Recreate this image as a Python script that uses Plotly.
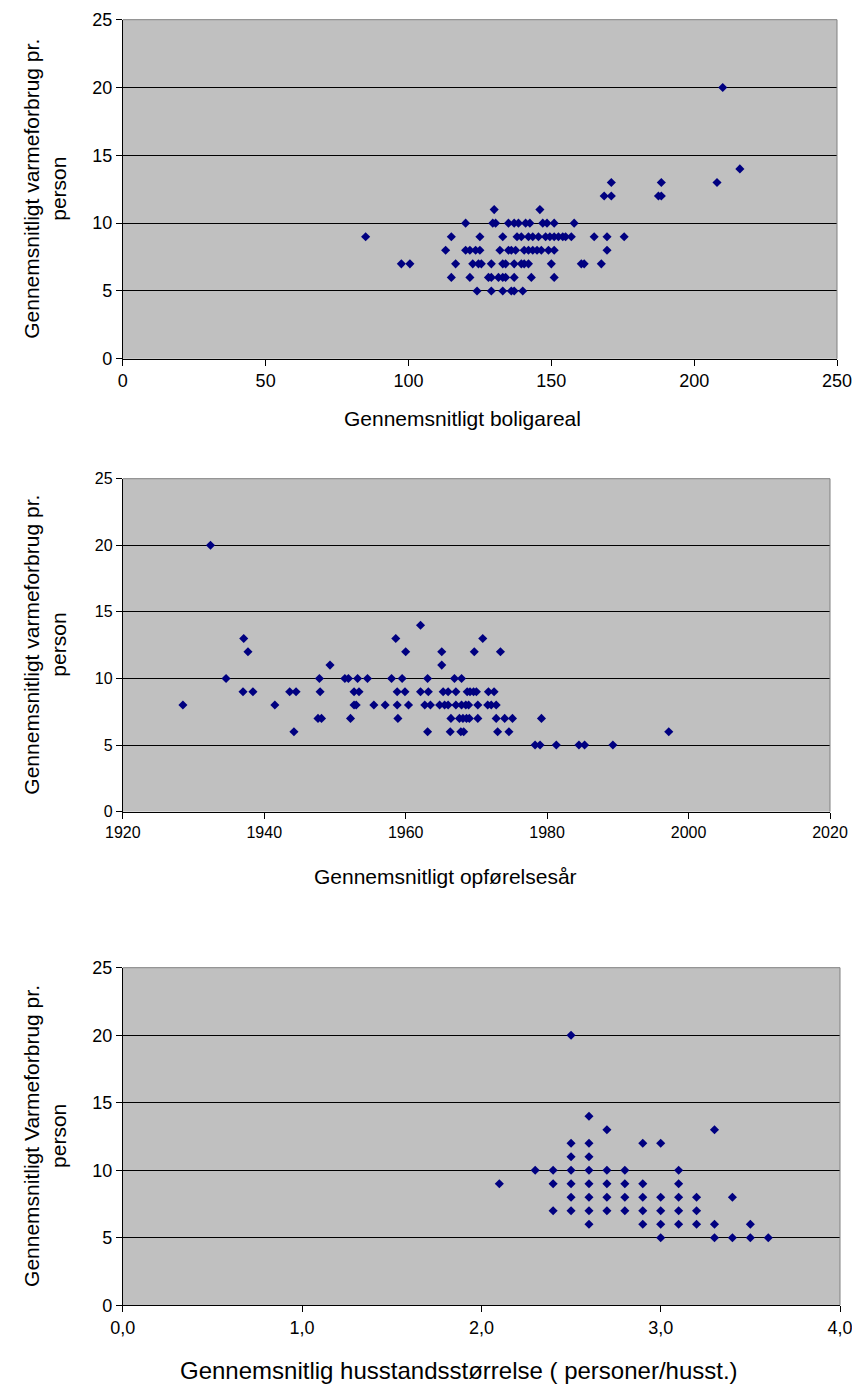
import plotly.graph_objects as go

# ---------------- data ----------------
# Chart 1: average dwelling area vs. average heat consumption per person
area_x = [210,
          216,
          171, 188.5, 208,
          168.5, 171, 187.5, 188.5,
          130, 146,
          120, 129.5, 130.5, 135, 137, 138.5, 141, 142.5, 147, 148.5, 151, 158,
          85, 115, 125, 133, 138, 139.5, 142, 143.5, 145.5, 148, 149.5, 151, 152.5, 154, 155, 157, 165, 169.5, 175.5,
          113, 120, 121.5, 123.5, 125, 132, 135, 136, 137.5, 140.5, 142, 143.5, 145, 146.5, 149, 151, 169.5,
          97.5, 100.5, 116.5, 122.5, 124.5, 125.5, 129, 133, 134, 137, 139.5, 140.5, 142, 150, 160.5, 161.5, 167.5,
          115, 121.5, 128, 129, 131.5, 133, 134, 137, 143, 151,
          124, 129, 133, 136, 137, 140]
area_y = [20,
          14,
          13, 13, 13,
          12, 12, 12, 12,
          11, 11,
          10, 10, 10, 10, 10, 10, 10, 10, 10, 10, 10, 10,
          9, 9, 9, 9, 9, 9, 9, 9, 9, 9, 9, 9, 9, 9, 9, 9, 9, 9, 9,
          8, 8, 8, 8, 8, 8, 8, 8, 8, 8, 8, 8, 8, 8, 8, 8, 8,
          7, 7, 7, 7, 7, 7, 7, 7, 7, 7, 7, 7, 7, 7, 7, 7, 7,
          6, 6, 6, 6, 6, 6, 6, 6, 6, 6,
          5, 5, 5, 5, 5, 5]

# Chart 2: average construction year vs. heat consumption
year_x = [1932.4,
          1962.1,
          1937.1, 1958.6, 1970.9,
          1937.7, 1960.0, 1965.1, 1969.7, 1973.4,
          1949.3, 1965.1,
          1934.6, 1947.8, 1951.4, 1951.9, 1953.2, 1954.6, 1958.0, 1959.5, 1963.1, 1966.9, 1967.9,
          1937.0, 1938.4, 1943.6, 1944.5, 1947.9, 1952.7, 1953.4, 1958.8, 1959.9, 1962.1, 1963.2,
          1965.3, 1966.0, 1967.1, 1968.7, 1969.1, 1969.6, 1970.0, 1971.7, 1972.5,
          1928.5, 1941.5, 1952.7, 1953.0, 1955.5, 1957.1, 1958.8, 1960.4, 1962.7, 1963.5, 1964.8,
          1965.5, 1966.0, 1967.1, 1967.9, 1968.5, 1968.9, 1970.2, 1971.6, 1972.1, 1972.8,
          1947.6, 1948.1, 1952.2, 1958.9, 1966.4, 1967.6, 1968.1, 1968.6, 1969.0, 1970.2, 1972.8,
          1974.0, 1975.1, 1979.2,
          1944.2, 1963.1, 1966.3, 1967.8, 1968.2, 1973.0, 1974.6, 1997.2,
          1978.3, 1979.0, 1981.3, 1984.5, 1985.3, 1989.3]
year_y = [20,
          14,
          13, 13, 13,
          12, 12, 12, 12, 12,
          11, 11,
          10, 10, 10, 10, 10, 10, 10, 10, 10, 10, 10,
          9, 9, 9, 9, 9, 9, 9, 9, 9, 9, 9,
          9, 9, 9, 9, 9, 9, 9, 9, 9,
          8, 8, 8, 8, 8, 8, 8, 8, 8, 8, 8,
          8, 8, 8, 8, 8, 8, 8, 8, 8, 8,
          7, 7, 7, 7, 7, 7, 7, 7, 7, 7, 7,
          7, 7, 7,
          6, 6, 6, 6, 6, 6, 6, 6,
          5, 5, 5, 5, 5, 5]

# Chart 3: average household size vs. heat consumption
hh_x = [2.1,
        2.3,
        2.4, 2.4, 2.4,
        2.5, 2.5, 2.5, 2.5, 2.5, 2.5, 2.5,
        2.6, 2.6, 2.6, 2.6, 2.6, 2.6, 2.6, 2.6,
        2.7, 2.7, 2.7, 2.7, 2.7,
        2.8, 2.8, 2.8, 2.8,
        2.9, 2.9, 2.9, 2.9, 2.9,
        3.0, 3.0, 3.0, 3.0, 3.0,
        3.1, 3.1, 3.1, 3.1, 3.1,
        3.2, 3.2, 3.2,
        3.3, 3.3, 3.3,
        3.4, 3.4,
        3.5, 3.5,
        3.6]
hh_y = [9,
        10,
        10, 9, 7,
        20, 12, 11, 10, 9, 8, 7,
        14, 12, 11, 10, 9, 8, 7, 6,
        13, 10, 9, 8, 7,
        10, 9, 8, 7,
        12, 9, 8, 7, 6,
        12, 8, 7, 6, 5,
        10, 9, 8, 7, 6,
        8, 7, 6,
        13, 6, 5,
        8, 5,
        6, 5,
        5]

y_ticks = [0, 5, 10, 15, 20, 25]
x1_ticks = [0, 50, 100, 150, 200, 250]
x2_ticks = [1920, 1940, 1960, 1980, 2000, 2020]
x3_ticks = [0.0, 1.0, 2.0, 3.0, 4.0]

x_titles = ["Gennemsnitligt boligareal",
            "Gennemsnitligt opførelsesår",
            "Gennemsnitlig husstandsstørrelse ( personer/husst.)"]
y_titles_1 = ["Gennemsnitligt varmeforbrug pr.",
              "Gennemsnitligt varmeforbrug pr.",
              "Gennemsnitligt Varmeforbrug pr."]
y_title_2 = "person"

# ---------------- layout helpers ----------------
W, H = 852, 1384
FONT = "Liberation Sans, Arial, sans-serif"


def px_x(p):
    return p / W


def px_y(p):
    return 1 - p / H


# plot rectangles in pixels: (left, right, top, bottom)
boxes = [(122.8, 837.0, 19.7, 358.8),
         (122.8, 830.0, 478.7, 811.6),
         (122.8, 840.0, 967.7, 1305.2)]

fig = go.Figure()

series = [(area_x, area_y), (year_x, year_y), (hh_x, hh_y)]
for i, (xs, ys) in enumerate(series):
    sfx = "" if i == 0 else str(i + 1)
    fig.add_trace(go.Scatter(
        x=xs, y=ys, mode="markers",
        marker=dict(symbol="diamond", size=7, color="#000080",
                    line=dict(width=0)),
        xaxis="x" + sfx, yaxis="y" + sfx, showlegend=False,
        hoverinfo="x+y", cliponaxis=False))

xranges = [[0, 250.0001], [1920, 2020.0001], [0, 4.000001]]
xticks = [x1_ticks, x2_ticks, x3_ticks]
xfmt = ["d", "d", ".1f"]
tick_sizes = [18, 16, 18]
x_title_sizes = [21, 21, 24]

layout = dict(
    width=W, height=H,
    margin=dict(l=0, r=0, t=0, b=0, autoexpand=False),
    paper_bgcolor="white",
    plot_bgcolor="#C0C0C0",
    separators=",.",
    font=dict(family=FONT, color="black"),
    showlegend=False,
)

shapes = []
annotations = []
x_title_pos = [(462, 418), (445, 876), (459, 1370)]
for i, (l, r, t, b) in enumerate(boxes):
    sfx = "" if i == 0 else str(i + 1)
    xa = dict(
        domain=[px_x(l), px_x(r)], range=xranges[i], anchor="y" + sfx,
        tickmode="array", tickvals=xticks[i], tickformat=xfmt[i],
        showgrid=False, zeroline=False, automargin=False,
        ticklabeloverflow="allow",
        showline=True, linecolor="black", linewidth=1,
        ticks="outside", ticklen=6, tickwidth=1, tickcolor="black",
        tickfont=dict(size=tick_sizes[i], family=FONT, color="black"),
        fixedrange=True,
    )
    ya = dict(
        domain=[px_y(b), px_y(t)], range=[0, 25], anchor="x" + sfx,
        tickmode="array", tickvals=y_ticks,
        showgrid=True, gridcolor="black", gridwidth=1,
        zeroline=False, automargin=False,
        ticklabeloverflow="allow",
        showline=True, linecolor="black", linewidth=1,
        ticks="outside", ticklen=6, tickwidth=1, tickcolor="black",
        tickfont=dict(size=tick_sizes[i], family=FONT, color="black"),
        fixedrange=True,
    )
    layout["xaxis" + sfx] = xa
    layout["yaxis" + sfx] = ya
    # gray plot-area frame: top and right edges
    shapes.append(dict(type="line", xref="paper", yref="paper",
                       x0=px_x(l), x1=px_x(r), y0=px_y(t), y1=px_y(t),
                       line=dict(color="#808080", width=1), layer="above"))
    shapes.append(dict(type="line", xref="paper", yref="paper",
                       x0=px_x(r), x1=px_x(r), y0=px_y(t), y1=px_y(b),
                       line=dict(color="#808080", width=1), layer="above"))
    # x-axis title
    tx, ty = x_title_pos[i]
    annotations.append(dict(text=x_titles[i], xref="paper", yref="paper",
                            x=px_x(tx), y=px_y(ty), xanchor="center", yanchor="middle",
                            showarrow=False,
                            font=dict(size=x_title_sizes[i], family=FONT, color="black")))
    # y-axis two-line title
    yc = (t + b) / 2
    annotations.append(dict(text=y_titles_1[i], xref="paper", yref="paper",
                            x=px_x(31.5), y=px_y(yc), xanchor="center", yanchor="middle",
                            textangle=-90, showarrow=False,
                            font=dict(size=21, family=FONT, color="black")))
    annotations.append(dict(text=y_title_2, xref="paper", yref="paper",
                            x=px_x(58.5), y=px_y(yc), xanchor="center", yanchor="middle",
                            textangle=-90, showarrow=False,
                            font=dict(size=21, family=FONT, color="black")))

layout["shapes"] = shapes
layout["annotations"] = annotations
fig.update_layout(**layout)

fig.write_html("out.html")
